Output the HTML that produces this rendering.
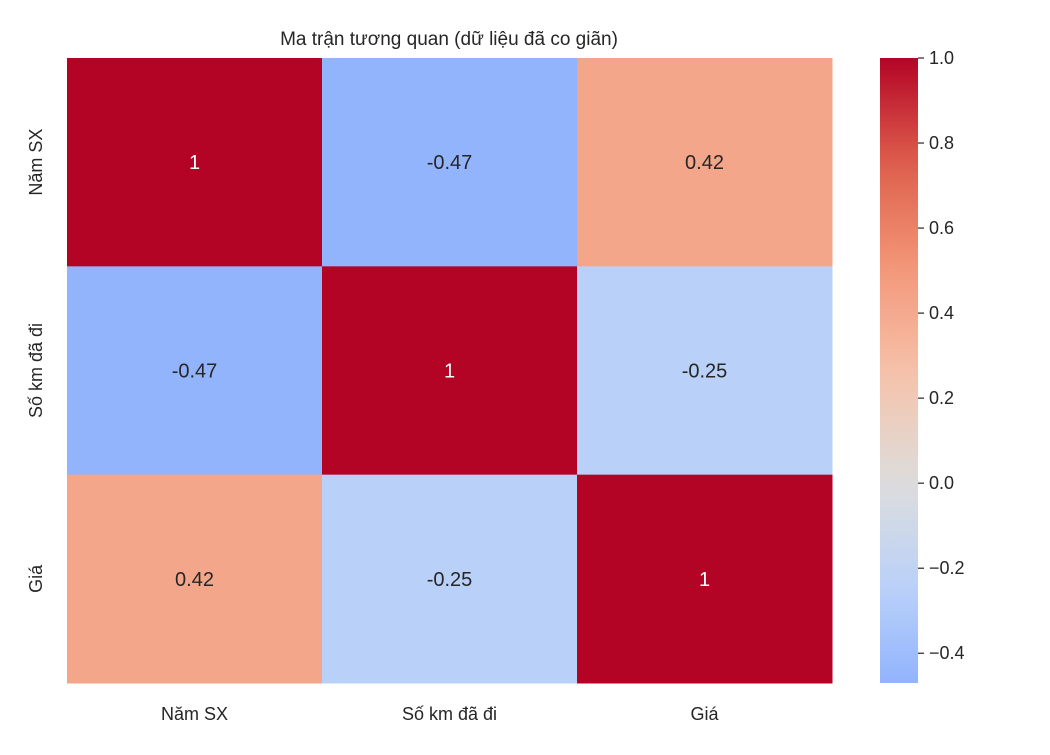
<!DOCTYPE html>
<html><head><meta charset="utf-8"><style>
body{margin:0;background:#fff}
svg text{font-family:"Liberation Sans","DejaVu Sans",sans-serif;fill:#262626}
</style></head><body>
<svg id="chart" width="1050" height="750">
<defs><linearGradient id="cbgrad" x1="0" y1="1" x2="0" y2="0"></linearGradient></defs>
<text x="449" y="45" font-size="19" text-anchor="middle">Ma trận tương quan (dữ liệu đã co giãn)</text>
<g id="cells"></g>
<g id="xticks"></g>
<g id="yticks"></g>
<rect x="880" y="58" width="38" height="625" fill="url(#cbgrad)"></rect>
<g id="cbticks"></g>
</svg>
<script>
const labels = ["Năm SX", "Số km đã đi", "Giá"];
const values = [[1, -0.47, 0.42], [-0.47, 1, -0.25], [0.42, -0.25, 1]];
const annots = [["1", "-0.47", "0.42"], ["-0.47", "1", "-0.25"], ["0.42", "-0.25", "1"]];
const cbTicks = [1.0, 0.8, 0.6, 0.4, 0.2, 0.0, -0.2, -0.4];
const cbTickLabels = ["1.0", "0.8", "0.6", "0.4", "0.2", "0.0", "\u22120.2", "\u22120.4"];
const vmin = -0.47, vmax = 1;

const NS = "http://www.w3.org/2000/svg";
const stops = [[0,[59,76,192]],[0.125,[98,130,234]],[0.25,[141,176,254]],[0.375,[185,208,249]],[0.5,[221,221,221]],[0.625,[245,196,172]],[0.75,[244,152,122]],[0.875,[222,96,77]],[1,[180,4,38]]];
function cw(t){for(let i=1;i<stops.length;i++){if(t<=stops[i][0]){const a=stops[i-1],b=stops[i],f=(t-a[0])/(b[0]-a[0]);return "rgb("+a[1].map((c,k)=>Math.round(c+(b[1][k]-c)*f)).join(",")+")";}}return "rgb(180,4,38)";}
function color(v){return cw((v+1)/2);}
const X0=67,Y0=58,W=765,H=625,n=labels.length,cw_=W/n,ch=H/n;
function el(tag,attrs,parent,txt){const e=document.createElementNS(NS,tag);for(const k in attrs)e.setAttribute(k,attrs[k]);if(txt!==undefined)e.textContent=txt;parent.appendChild(e);return e;}
const cells=document.getElementById("cells");
for(let r=0;r<n;r++)for(let c=0;c<n;c++){
  const v=values[r][c];
  const rect=el("rect",{x:X0+c*cw_,y:Y0+r*ch,width:cw_+0.5,height:ch+0.5,fill:color(v)},cells);
  
  
  const t=el("text",{x:X0+(c+0.5)*cw_,y:Y0+(r+0.5)*ch+7,"font-size":20,"text-anchor":"middle"},cells,annots[r][c]);
  t.style.fill=v>0.6?"#fff":"#262626";
  
  
}
const xt=document.getElementById("xticks"),yt=document.getElementById("yticks");
labels.forEach((l,i)=>{
  const t=el("text",{x:X0+(i+0.5)*cw_,y:720,"font-size":18,"text-anchor":"middle"},xt,l);
  
  
  const cy=Y0+(i+0.5)*ch;
  const u=el("text",{x:0,y:0,"font-size":18,"text-anchor":"middle",transform:"translate(42,"+cy+") rotate(-90)"},yt,l);
  
  
});
const g=document.getElementById("cbgrad");
for(let i=0;i<=20;i++){const v=vmin+(vmax-vmin)*i/20;el("stop",{offset:(i/20),"stop-color":color(v)},g);}
const cbt=document.getElementById("cbticks");
function cbY(v){return 683-(v-vmin)/(vmax-vmin)*625;}
cbTicks.forEach((v,i)=>{
  const y=cbY(v);
  const ln=el("line",{x1:918,x2:924,y1:y,y2:y,stroke:"#262626","stroke-width":1.2},cbt);
  
  
  const t=el("text",{x:929,y:y+6,"font-size":18},cbt,cbTickLabels[i]);
  
  
});
</script>
</body></html>
